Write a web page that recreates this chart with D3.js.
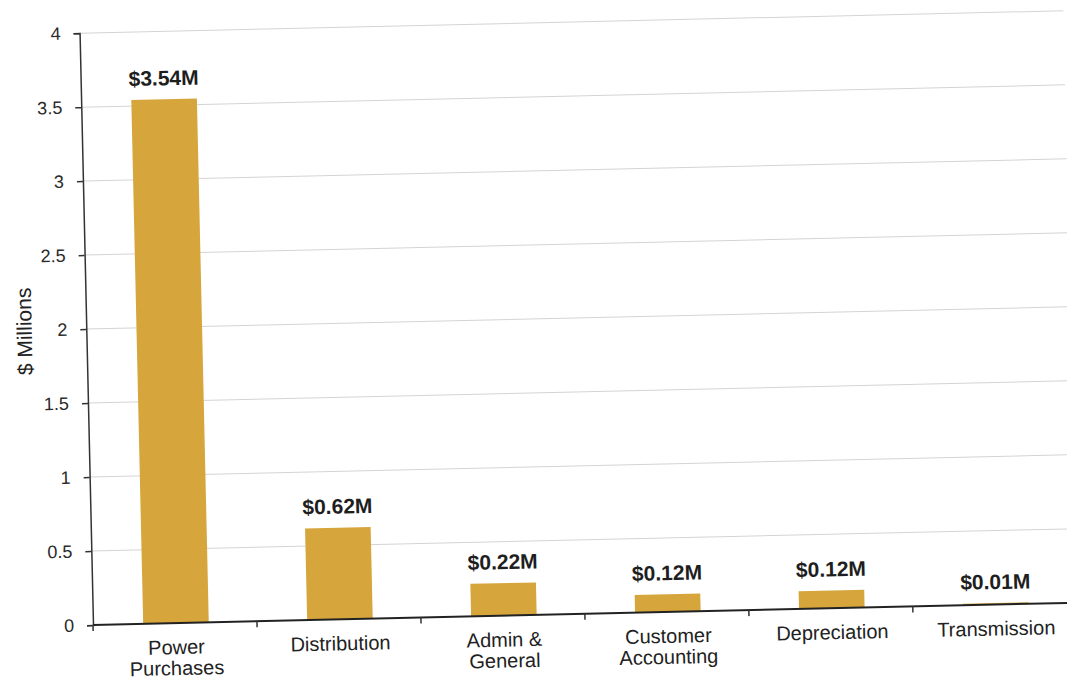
<!DOCTYPE html>
<html>
<head>
<meta charset="utf-8">
<script src="https://cdn.jsdelivr.net/npm/d3@7/dist/d3.min.js"></script>
<style>
  html, body { margin: 0; padding: 0; background: #fff; }
  svg { display: block; }
  text { font-family: "Liberation Sans", Arial, sans-serif; }
</style>
</head>
<body>
<svg id="chart" width="1067" height="681"></svg>
<script>
// ---- data ----
const categories = ["Power Purchases", "Distribution", "Admin & General", "Customer Accounting", "Depreciation", "Transmission"];
const categoryLines = [["Power", "Purchases"], ["Distribution"], ["Admin &", "General"], ["Customer", "Accounting"], ["Depreciation"], ["Transmission"]];
const values = [3.54, 0.62, 0.22, 0.12, 0.12, 0.01];
const valueLabels = ["$3.54M", "$0.62M", "$0.22M", "$0.12M", "$0.12M", "$0.01M"];
const yTicks = [0, 0.5, 1, 1.5, 2, 2.5, 3, 3.5, 4];
const yTitle = "$ Millions";

// ---- layout ----
const originX = 93, originY = 625;
const plotH = 592, plotW = 984;
const tilt = -1.3;

const svg = d3.select("#chart");
const root = svg.append("g").attr("transform", `rotate(${tilt},${originX},${originY})`);
const g = root.append("g").attr("transform", `translate(${originX},${originY - plotH})`);

const x = d3.scaleBand().domain(categories).range([0, plotW]).padding(0);
const y = d3.scaleLinear().domain([0, 4]).range([plotH, 0]);

// gridlines
g.append("g").selectAll("line").data(yTicks.filter(d => d > 0)).join("line")
  .attr("x1", 0).attr("x2", plotW)
  .attr("y1", d => y(d)).attr("y2", d => y(d))
  .attr("stroke", "#d4d4d4").attr("stroke-width", 1);

// bars
const barW = x.bandwidth() * 0.4;
g.append("g").selectAll("rect").data(values).join("rect")
  .attr("x", (d, i) => x(categories[i]) + (x.bandwidth() - barW) / 2 + 1)
  .attr("width", barW)
  .attr("y", d => y(d))
  .attr("height", d => y(0) - y(d))
  .attr("fill", "#d6a53c");

// value labels
g.append("g").selectAll("text").data(values).join("text")
  .attr("x", (d, i) => x(categories[i]) + x.bandwidth() / 2 + 1)
  .attr("y", d => y(d) - 14)
  .attr("text-anchor", "middle")
  .attr("font-size", 21)
  .attr("font-weight", "bold")
  .attr("fill", "#1e1e1e")
  .text((d, i) => valueLabels[i]);

// y axis
const yAxis = d3.axisLeft(y).tickValues(yTicks).tickSize(6).tickPadding(13).tickFormat(d => String(d));
const ya = g.append("g").call(yAxis);
ya.select(".domain").attr("stroke", "#333").attr("stroke-width", 1.5);
ya.selectAll(".tick line").attr("stroke", "#333").attr("stroke-width", 1.5);
ya.selectAll(".tick text").attr("font-size", 18).attr("fill", "#2a2a2a")
  .style("font-family", '"Liberation Sans", Arial, sans-serif');

// x axis line
g.append("line").attr("x1", 0).attr("x2", plotW).attr("y1", y(0)).attr("y2", y(0))
  .attr("stroke", "#222").attr("stroke-width", 2);
// x boundary ticks
const bounds = categories.map(c => x(c)).concat([x(categories[categories.length - 1]) + x.bandwidth()]);
g.append("g").selectAll("line").data(bounds).join("line")
  .attr("x1", d => d).attr("x2", d => d)
  .attr("y1", y(0)).attr("y2", y(0) + 6)
  .attr("stroke", "#333").attr("stroke-width", 1.5);

// category labels
const cl = g.append("g").selectAll("text").data(categoryLines).join("text")
  .attr("transform", (d, i) => `translate(${x(categories[i]) + x.bandwidth() / 2 + 1},${y(0) + 31})`)
  .attr("text-anchor", "middle")
  .attr("font-size", 20)
  .attr("fill", "#222");
cl.selectAll("tspan").data(d => d).join("tspan")
  .attr("x", 0).attr("dy", (d, i) => i === 0 ? 0 : 21)
  .text(d => d);

// y title
g.append("text")
  .attr("transform", `translate(-62,297) rotate(-90)`)
  .attr("text-anchor", "middle")
  .attr("dy", "0.35em")
  .attr("font-size", 21)
  .attr("fill", "#222")
  .text(yTitle);
</script>
</body>
</html>
